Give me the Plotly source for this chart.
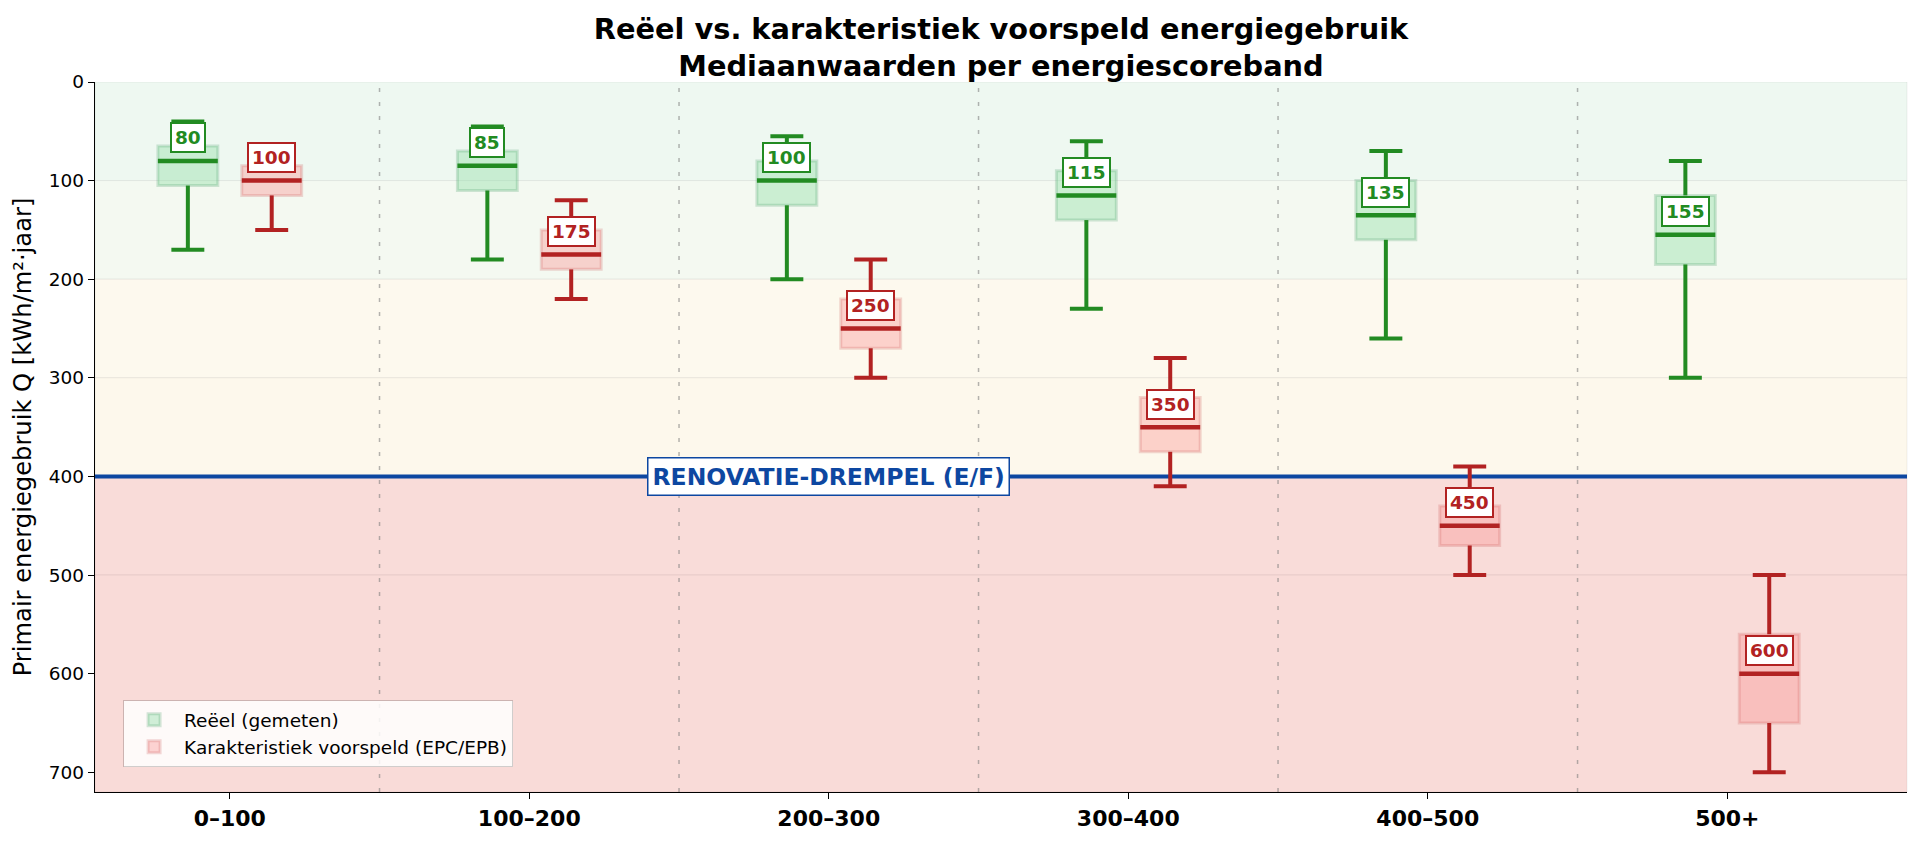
import plotly.graph_objects as go

# ---------------- data ----------------
categories = ["0–100", "100–200", "200–300", "300–400", "400–500", "500+"]

reeel_low = [40, 45, 55, 60, 70, 80]
reeel_q1 = [65, 70, 80, 90, 100, 115]
reeel_med = [80, 85, 100, 115, 135, 155]
reeel_q3 = [105, 110, 125, 140, 160, 185]
reeel_high = [170, 180, 200, 230, 260, 300]

pred_low = [80, 120, 180, 280, 390, 500]
pred_q1 = [85, 150, 220, 320, 430, 560]
pred_med = [100, 175, 250, 350, 450, 600]
pred_q3 = [115, 190, 270, 375, 470, 650]
pred_high = [150, 220, 300, 410, 500, 700]

threshold = 400
threshold_label = "RENOVATIE-DREMPEL (E/F)"

band_edges = [0, 100, 200, 300, 400, 500, 720]
band_colors = ["#eef8f1", "#f4f9f1", "#fdf9ee", "#fdf8ec", "#f9dcd9", "#f9dbd8"]

# ---------------- style ----------------
FONT = "DejaVu Sans"
GREEN = "#228B22"
RED = "#B22222"
BLUE = "#0D47A1"
OFFSET = 0.14
BOX_W = 0.2
CAP_W = 0.11

fig = go.Figure()


def add_series(name, low, q1, med, q3, high, sign, dark, fill, edge):
    xs = [i + sign * OFFSET for i in range(len(categories))]
    # boxes (IQR) as bars with base
    fig.add_trace(go.Bar(
        x=xs, y=[b - a for a, b in zip(q1, q3)], base=q1, width=BOX_W,
        marker=dict(color=fill, line=dict(color=edge, width=3)),
        name=name, legendgroup=name, showlegend=True, hoverinfo="skip",
    ))
    # whiskers + caps
    wx, wy = [], []
    for x, lo, a, b, hi in zip(xs, low, q1, q3, high):
        wx += [x, x, None, x - CAP_W / 2, x + CAP_W / 2, None,
               x, x, None, x - CAP_W / 2, x + CAP_W / 2, None]
        wy += [a, lo, None, lo, lo, None, b, hi, None, hi, hi, None]
    fig.add_trace(go.Scatter(x=wx, y=wy, mode="lines",
                             line=dict(color=dark, width=4),
                             showlegend=False, hoverinfo="skip", legendgroup=name))
    # medians
    mx, my = [], []
    for x, m in zip(xs, med):
        mx += [x - BOX_W / 2, x + BOX_W / 2, None]
        my += [m, m, None]
    fig.add_trace(go.Scatter(x=mx, y=my, mode="lines",
                             line=dict(color=dark, width=4.5),
                             showlegend=False, hoverinfo="skip", legendgroup=name))
    # value labels
    for x, m in zip(xs, med):
        fig.add_annotation(x=x, y=m, yshift=23, text=f"<b>{m}</b>", showarrow=False,
                           font=dict(family=FONT, size=18.5, color=dark),
                           bgcolor="white", bordercolor=dark, borderwidth=2,
                           borderpad=3, xanchor="center", yanchor="middle")


add_series("Reëel (gemeten)", reeel_low, reeel_q1, reeel_med, reeel_q3, reeel_high,
           -1, GREEN, "rgba(152,223,173,0.45)", "rgba(60,150,90,0.22)")
add_series("Karakteristiek voorspeld (EPC/EPB)", pred_low, pred_q1, pred_med, pred_q3, pred_high,
           1, RED, "rgba(250,150,150,0.40)", "rgba(200,80,80,0.22)")

shapes = []
# background bands
for (a, b), c in zip(zip(band_edges[:-1], band_edges[1:]), band_colors):
    shapes.append(dict(type="rect", xref="paper", x0=0, x1=1, yref="y", y0=a, y1=b,
                       fillcolor=c, line=dict(color="rgba(0,0,0,0.06)", width=1),
                       layer="below"))
# category dividers
for i in range(len(categories) - 1):
    shapes.append(dict(type="line", xref="x", x0=i + 0.5, x1=i + 0.5, yref="paper", y0=0, y1=1,
                       line=dict(color="rgba(120,120,120,0.55)", width=1.5, dash="4px,10px"),
                       layer="below"))
# threshold line
shapes.append(dict(type="line", xref="paper", x0=0, x1=1, yref="y", y0=threshold, y1=threshold,
                   line=dict(color=BLUE, width=4), layer="below"))

fig.add_annotation(x=2.0, y=threshold, text=f"<b>{threshold_label}</b>", showarrow=False,
                   font=dict(family=FONT, size=23.5, color=BLUE),
                   bgcolor="white", bordercolor=BLUE, borderwidth=1.5, borderpad=4,
                   xanchor="center", yanchor="middle")

fig.update_layout(
    width=1920, height=842,
    margin=dict(l=95, r=13, t=82, b=50),
    paper_bgcolor="white", plot_bgcolor="white",
    font=dict(family=FONT, color="black"),
    barmode="overlay",
    shapes=shapes,
    title=dict(
        text="<b>Reëel vs. karakteristiek voorspeld energiegebruik<br>Mediaanwaarden per energiescoreband</b>",
        xref="paper", x=0.5, xanchor="center",
        yref="container", y=1 - 38.5 / 842, yanchor="middle",
        font=dict(family=FONT, size=28.8, color="black"),
    ),
    legend=dict(
        x=0.0155, y=0.035, xanchor="left", yanchor="bottom",
        bgcolor="rgba(255,255,255,0.85)", bordercolor="rgba(0,0,0,0.18)", borderwidth=1,
        font=dict(family=FONT, size=18.5, color="black"),
        traceorder="normal", itemwidth=50,
    ),
    showlegend=True,
)

fig.update_xaxes(
    range=[-0.45, 5.6], tickmode="array", tickvals=list(range(len(categories))),
    ticktext=[f"<b>{c}</b>" for c in categories],
    tickfont=dict(family=FONT, size=22, color="black"),
    showgrid=False, zeroline=False, showline=True, linecolor="black", linewidth=1.3,
    ticks="outside", ticklen=6, tickwidth=1.2, tickcolor="black",
)
fig.update_yaxes(
    range=[720, 0], tickmode="array", tickvals=[0, 100, 200, 300, 400, 500, 600, 700],
    tickfont=dict(family=FONT, size=18.5, color="black"),
    showgrid=False, zeroline=False, showline=True, linecolor="black", linewidth=1.3,
    ticks="outside", ticklen=6, tickwidth=1.2, tickcolor="black",
    title=dict(text="Primair energiegebruik Q [kWh/m²·jaar]",
               font=dict(family=FONT, size=24.2, color="black"), standoff=10),
)

fig.write_html("out.html")
